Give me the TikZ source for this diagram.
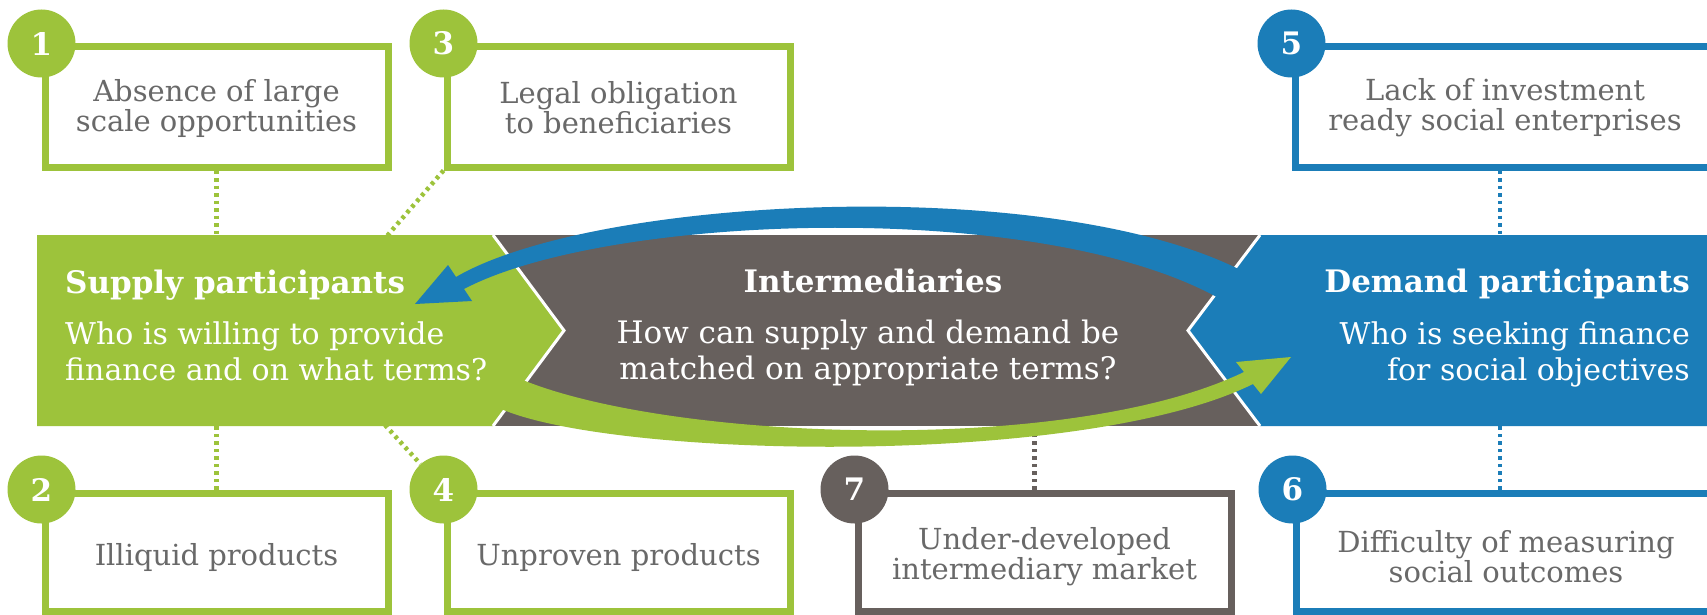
\documentclass[tikz,border=0pt]{standalone}
\usepackage{fontspec}
\setmainfont{DejaVu Serif}
\usetikzlibrary{calc}
\definecolor{sgreen}{RGB}{157,195,59}
\definecolor{dblue}{RGB}{27,125,184}
\definecolor{igray}{RGB}{103,96,93}
\definecolor{tgray}{RGB}{105,105,105}
\begin{document}
\begin{tikzpicture}[x=1pt,y=-1pt,
  boxbase/.style={draw, line width=7pt, inner sep=0pt},
  gbox/.style={boxbase, draw=sgreen},
  bbox/.style={boxbase, draw=dblue},
  ybox/.style={boxbase, draw=igray},
  btext/.style={inner sep=0pt, align=center, text=tgray, font=\fontsize{29}{30}\selectfont},
  num/.style={circle, inner sep=0pt, minimum size=68pt, text=white, font=\bfseries\fontsize{31}{31}\selectfont},
  dotl/.style={line width=4.5pt, dash pattern=on 3.5pt off 4pt},
  title/.style={text=white, inner sep=0pt, font=\bfseries\fontsize{31}{34}\selectfont},
  body/.style={text=white, inner sep=0pt, font=\fontsize{30}{36}\selectfont},
  mbody/.style={text=white, inner sep=0pt, font=\fontsize{31}{36}\selectfont}
]
\useasboundingbox (0,0) rectangle (1707,615);
\clip (0,0) rectangle (1707,615);
\fill[white] (0,0) rectangle (1707,615);

% boxes
\node[gbox, minimum width=343pt, minimum height=120pt] (b1) at (216.5,107) {};
\node[gbox, minimum width=343pt, minimum height=120pt] (b3) at (618.5,107) {};
\node[bbox, minimum width=420pt, minimum height=120pt] (b5) at (1505,107) {};
\node[gbox, minimum width=343pt, minimum height=118pt] (b2) at (216.5,552) {};
\node[gbox, minimum width=343pt, minimum height=118pt] (b4) at (618.5,552) {};
\node[ybox, minimum width=373pt, minimum height=118pt] (b7) at (1044.5,552) {};
\node[bbox, minimum width=420pt, minimum height=118pt] (b6) at (1506,552) {};

% box texts
\node[btext] (t1) at ([yshift=-1pt]b1.center) {Absence of large\\scale opportunities};
\node[btext] (t3) at ([yshift=-1pt]b3.center) {Legal obligation\\to beneficiaries};
\node[btext] (t5) at ([yshift=-1pt]b5.center) {Lack of investment\\ready social enterprises};
\node[btext] (t2) at ([yshift=-5pt]b2.center) {Illiquid products};
\node[btext] (t4) at ([yshift=-5pt]b4.center) {Unproven products};
\node[btext] (t7) at ([yshift=-5pt]b7.center) {Under-developed\\intermediary market};
\node[btext] (t6) at ([yshift=-5pt]b6.center) {Difficulty of measuring\\social outcomes};

% number badges
\node[num, fill=sgreen] (c1) at (b1.north west) {1};
\node[num, fill=sgreen] (c3) at (b3.north west) {3};
\node[num, fill=dblue] (c5) at (b5.north west) {5};
\node[num, fill=sgreen] (c2) at (b2.north west) {2};
\node[num, fill=sgreen] (c4) at (b4.north west) {4};
\node[num, fill=igray] (c7) at (b7.north west) {7};
\node[num, fill=dblue] (c6) at (b6.north west) {6};

% band edges
\coordinate (bandT) at (0,235);
\coordinate (bandB) at (0,426);
\coordinate (k3) at (387,236);
\coordinate (k4) at (385,425);

% dotted connectors
\draw[dotl, sgreen] (b1.south) -- (b1.south |- bandT);
\draw[dotl, sgreen] (b3.south west) -- (k3);
\draw[dotl, dblue] ([xshift=-5pt]b5.south) -- ([xshift=-5pt]b5.south |- bandT);
\draw[dotl, sgreen] (b2.north) -- (b2.north |- bandB);
\draw[dotl, sgreen] (k4) -- (c4);
\draw[dotl, igray] ([xshift=-10pt]b7.north) -- ([xshift=-10pt]b7.north |- bandB);
\draw[dotl, dblue] ([xshift=-6pt]b6.north) -- ([xshift=-6pt]b6.north |- bandB);

% band
\fill[igray] (480,235) rectangle (1280,426);
\fill[sgreen] (37,235) -- (493,235) -- (564,330.5) -- (493,426) -- (37,426) -- cycle;
\draw[white, line width=3pt] (493,235) -- (564,330.5) -- (493,426);
\fill[dblue] (1260,235) -- (1720,235) -- (1720,426) -- (1260,426) -- (1188,330.5) -- cycle;
\draw[white, line width=3pt] (1260,235) -- (1188,330.5) -- (1260,426);

% curved arrows
\fill[dblue] (448,265) -- (415,304) -- (472,301) -- (464,289)
  .. controls (610,212) and (1060,197) .. (1232,306) -- (1262,282)
  .. controls (1085,172) and (600,193) .. (456,277) -- cycle;
\fill[sgreen] (1236,362) -- (1291,357) -- (1261,394) -- (1253,384)
  .. controls (1073,473) and (560,457) .. (485,400) -- (505,372)
  .. controls (640,440) and (1064,459) .. (1244,372) -- cycle;

% band texts
\node[title, anchor=base west] (st) at (65,293) {Supply participants};
\node[body, anchor=north west, align=left] (sb) at (65,322) {Who is willing to provide\\finance and on what terms?};
\node[title, anchor=base] (it) at (873,292) {Intermediaries};
\node[mbody, anchor=north, align=center] (ib) at (868,320) {How can supply and demand be\\matched on appropriate terms?};
\node[title, anchor=base east] (dt) at (1690,292) {Demand participants};
\node[body, anchor=north east, align=right] (db) at (1690,322) {Who is seeking finance\\for social objectives};
\end{tikzpicture}
\end{document}
